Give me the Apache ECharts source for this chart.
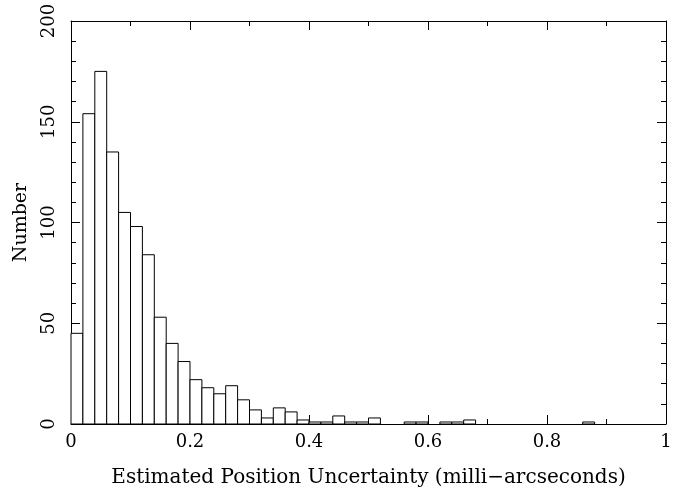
<!DOCTYPE html>
<html>
<head>
<meta charset="utf-8">
<script src="https://cdn.jsdelivr.net/npm/echarts@6/dist/echarts.min.js"></script>
<style>html,body{margin:0;padding:0;background:#fff}#c{width:692px;height:495px}</style>
</head>
<body>
<div id="c"></div>
<script>
// Histogram bins: lower edges (milli-arcseconds) and counts
var binWidth = 0.02;
var binStarts = [0.00,0.02,0.04,0.06,0.08,0.10,0.12,0.14,0.16,0.18,
                 0.20,0.22,0.24,0.26,0.28,0.30,0.32,0.34,0.36,0.38,
                 0.40,0.42,0.44,0.46,0.48,0.50,0.52,0.54,0.56,0.58,
                 0.60,0.62,0.64,0.66,0.68,0.70,0.72,0.74,0.76,0.78,
                 0.80,0.82,0.84,0.86,0.88,0.90,0.92,0.94,0.96,0.98];
var counts = [45,154,175,135,105,98,84,53,40,31,
              22,18,15,19,12,7,3,8,6,2,
              1,1,4,1,1,3,0,0,1,1,
              0,1,1,2,0,0,0,0,0,0,
              0,0,0,1,0,0,0,0,0,0];
var xTicks = [0, 0.2, 0.4, 0.6, 0.8, 1];
var yTicks = [0, 50, 100, 150, 200];
var xTitle = 'Estimated Position Uncertainty (milli\u2212arcseconds)';
var yTitle = 'Number';

var data = [];
for (var i = 0; i < binStarts.length; i++) {
  if (counts[i] > 0) data.push([binStarts[i], binStarts[i] + binWidth, counts[i]]);
}

var font = 'DejaVu Serif';
var chart = echarts.init(document.getElementById('c'), null, {renderer: 'canvas'});
function axisBase() {
  return {
    axisLine: {show: true, onZero: false, lineStyle: {color: '#000', width: 1}},
    splitLine: {show: false},
    axisTick: {show: true, inside: true, length: 9, lineStyle: {color: '#000'}}
  };
}
chart.setOption({
  animation: false,
  backgroundColor: '#fff',
  grid: {left: 71, right: 26, top: 21, bottom: 71, containLabel: false},
  xAxis: [
    Object.assign(axisBase(), {
      type: 'value', position: 'bottom', min: xTicks[0], max: xTicks[xTicks.length - 1], interval: 0.2,
      minorTick: {show: true, splitNumber: 2, length: 5, lineStyle: {color: '#000'}},
      axisLabel: {show: true, margin: 9, color: '#000', fontFamily: font, fontSize: 18,
        formatter: function (v) { return String(Math.round(v * 10) / 10); }},
      name: xTitle, nameLocation: 'middle', nameGap: 44,
      nameTextStyle: {color: '#000', fontFamily: font, fontSize: 20}
    }),
    Object.assign(axisBase(), {
      type: 'value', position: 'top', min: xTicks[0], max: xTicks[xTicks.length - 1], interval: 0.2,
      minorTick: {show: true, splitNumber: 2, length: 5, lineStyle: {color: '#000'}},
      axisLabel: {show: false}
    })
  ],
  yAxis: [
    Object.assign(axisBase(), {
      type: 'value', position: 'left', min: yTicks[0], max: yTicks[yTicks.length - 1], interval: 50,
      minorTick: {show: true, splitNumber: 5, length: 5, lineStyle: {color: '#000'}},
      axisLabel: {show: true, rotate: 90, margin: 13, color: '#000', fontFamily: font, fontSize: 18},
      name: yTitle, nameLocation: 'middle', nameGap: 40, nameRotate: 90,
      nameTextStyle: {color: '#000', fontFamily: font, fontSize: 19}
    }),
    Object.assign(axisBase(), {
      type: 'value', position: 'right', min: yTicks[0], max: yTicks[yTicks.length - 1], interval: 50,
      minorTick: {show: true, splitNumber: 5, length: 5, lineStyle: {color: '#000'}},
      axisLabel: {show: false}
    })
  ],
  series: [{
    type: 'custom',
    xAxisIndex: 0, yAxisIndex: 0,
    data: data,
    renderItem: function (params, api) {
      var p0 = api.coord([api.value(0), api.value(2)]);
      var p1 = api.coord([api.value(1), 0]);
      return {
        type: 'rect',
        shape: {x: p0[0], y: p0[1], width: p1[0] - p0[0], height: p1[1] - p0[1]},
        style: {fill: '#fff', stroke: '#000', lineWidth: 1}
      };
    },
    encode: {x: [0, 1], y: 2}
  }]
});
</script>
</body>
</html>
